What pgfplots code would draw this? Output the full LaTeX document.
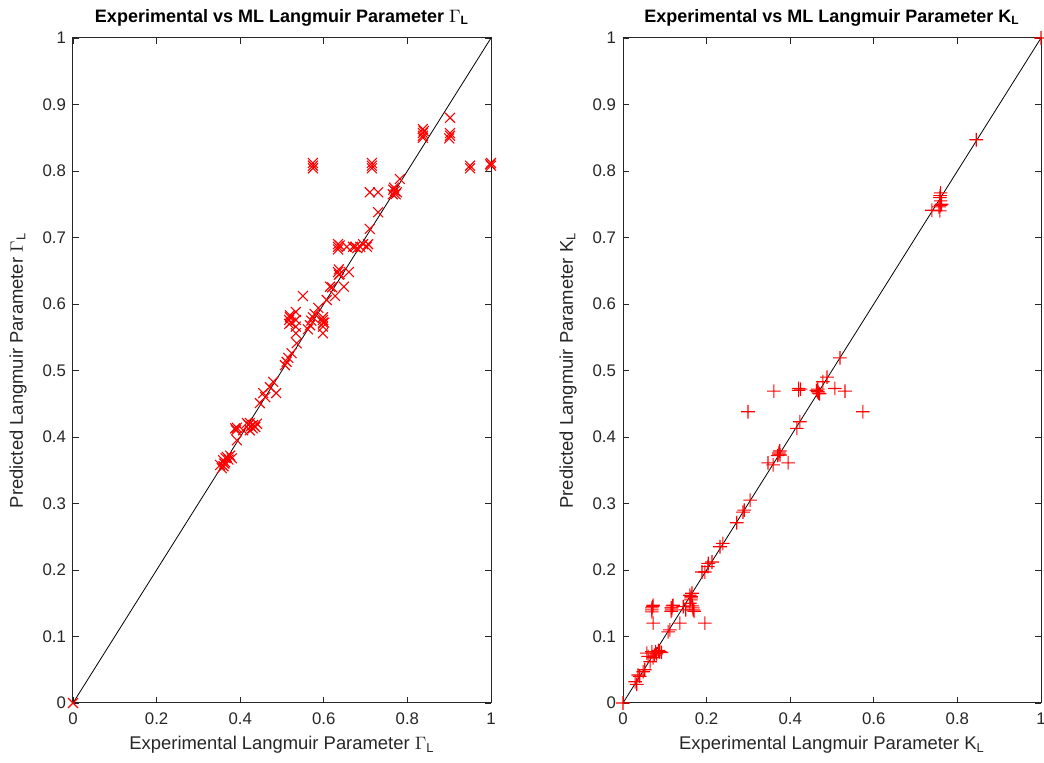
\documentclass[border=0pt]{standalone}
\usepackage{pgfplots}
\pgfplotsset{compat=1.18}
\usepackage{fontspec}
\setmainfont{Liberation Sans}
\definecolor{axgray}{RGB}{38,38,38}
\definecolor{mlred}{RGB}{255,0,0}

% plus mark built from two filled bars, cross mark stroked
\pgfdeclareplotmark{redplus}{%
  \pgfsetfillcolor{mlred}%
  \pgfpathrectangle{\pgfqpoint{-\pgfplotmarksize}{-0.28pt}}{\pgfqpoint{2\pgfplotmarksize}{0.56pt}}%
  \pgfpathrectangle{\pgfqpoint{-0.28pt}{-\pgfplotmarksize}}{\pgfqpoint{0.56pt}{2\pgfplotmarksize}}%
  \pgfusepathqfill}
\pgfdeclareplotmark{redcross}{%
  \pgfsetstrokecolor{mlred}%
  \pgfpathmoveto{\pgfqpoint{-.70710678\pgfplotmarksize}{-.70710678\pgfplotmarksize}}%
  \pgfpathlineto{\pgfqpoint{.70710678\pgfplotmarksize}{.70710678\pgfplotmarksize}}%
  \pgfpathmoveto{\pgfqpoint{-.70710678\pgfplotmarksize}{.70710678\pgfplotmarksize}}%
  \pgfpathlineto{\pgfqpoint{.70710678\pgfplotmarksize}{-.70710678\pgfplotmarksize}}%
  \pgfusepathqstroke}

% Experimental vs ML-predicted Langmuir parameter Gamma_L
\pgfplotstableread{
x y
0 0
0.352 0.358
0.356 0.353
0.359 0.365
0.362 0.360
0.364 0.362
0.360 0.356
0.365 0.368
0.368 0.370
0.372 0.366
0.380 0.368
0.376 0.372
0.392 0.395
0.388 0.413
0.390 0.410
0.392 0.414
0.407 0.410
0.416 0.421
0.420 0.418
0.423 0.410
0.423 0.421
0.425 0.416
0.430 0.413
0.431 0.418
0.436 0.415
0.440 0.420
0.447 0.451
0.455 0.466
0.460 0.460
0.471 0.475
0.479 0.483
0.486 0.466
0.507 0.508
0.511 0.513
0.515 0.519
0.523 0.526
0.535 0.541
0.517 0.576
0.517 0.570
0.519 0.583
0.521 0.572
0.519 0.580
0.533 0.588
0.533 0.576
0.533 0.566
0.533 0.556
0.550 0.612
0.562 0.562
0.567 0.568
0.570 0.575
0.574 0.580
0.578 0.585
0.587 0.594
0.598 0.576
0.598 0.572
0.598 0.580
0.598 0.566
0.598 0.556
0.601 0.572
0.607 0.606
0.615 0.626
0.620 0.625
0.627 0.612
0.634 0.648
0.636 0.652
0.636 0.644
0.638 0.645
0.648 0.626
0.660 0.648
0.634 0.686
0.634 0.682
0.634 0.690
0.638 0.688
0.655 0.686
0.670 0.686
0.675 0.686
0.680 0.684
0.687 0.686
0.694 0.690
0.703 0.686
0.706 0.690
0.710 0.713
0.730 0.738
0.710 0.768
0.730 0.768
0.765 0.765
0.766 0.772
0.770 0.770
0.772 0.765
0.775 0.768
0.768 0.775
0.782 0.788
0.574 0.808
0.574 0.804
0.574 0.812
0.715 0.808
0.715 0.804
0.715 0.812
0.837 0.850
0.837 0.853
0.837 0.857
0.839 0.860
0.837 0.863
0.902 0.853
0.902 0.857
0.900 0.849
0.902 0.880
0.950 0.808
0.950 0.804
1.000 0.808
1.000 0.812
0.998 0.810
}\gammadata

% Experimental vs ML-predicted Langmuir parameter K_L
\pgfplotstableread{
x y
0 0
0.029 0.032
0.033 0.028
0.036 0.042
0.040 0.040
0.048 0.047
0.052 0.050
0.057 0.075
0.060 0.070
0.065 0.062
0.069 0.077
0.072 0.068
0.075 0.072
0.078 0.077
0.080 0.074
0.085 0.079
0.088 0.077
0.092 0.076
0.069 0.143
0.069 0.140
0.071 0.145
0.069 0.137
0.072 0.147
0.072 0.120
0.108 0.107
0.112 0.110
0.117 0.143
0.117 0.140
0.118 0.146
0.115 0.143
0.115 0.138
0.120 0.147
0.136 0.120
0.144 0.145
0.150 0.140
0.160 0.162
0.162 0.155
0.163 0.160
0.163 0.158
0.165 0.165
0.166 0.146
0.167 0.143
0.168 0.140
0.170 0.138
0.160 0.150
0.189 0.197
0.196 0.120
0.196 0.197
0.203 0.205
0.204 0.210
0.213 0.212
0.232 0.235
0.239 0.240
0.272 0.271
0.287 0.287
0.290 0.290
0.299 0.438
0.304 0.305
0.347 0.361
0.359 0.358
0.361 0.469
0.373 0.376
0.373 0.373
0.375 0.379
0.370 0.372
0.376 0.373
0.395 0.361
0.416 0.413
0.423 0.423
0.420 0.473
0.420 0.470
0.425 0.472
0.466 0.468
0.466 0.472
0.468 0.466
0.470 0.465
0.463 0.470
0.478 0.483
0.488 0.490
0.507 0.473
0.519 0.519
0.531 0.469
0.574 0.438
0.739 0.741
0.756 0.746
0.760 0.767
0.759 0.763
0.758 0.760
0.760 0.755
0.762 0.750
0.760 0.748
0.758 0.740
0.845 0.847
1 1
}\kdata

\pgfplotsset{
  paritystyle/.style={
    scale only axis, width=209pt, height=332.5pt,
    anchor=south west,
    xmin=0, xmax=1, ymin=0, ymax=1,
    xtick={0,0.2,0.4,0.6,0.8,1},
    xticklabels={0,0.2,0.4,0.6,0.8,1},
    ytick={0,0.1,0.2,0.3,0.4,0.5,0.6,0.7,0.8,0.9,1},
    yticklabels={0,0.1,0.2,0.3,0.4,0.5,0.6,0.7,0.8,0.9,1},
    tick align=inside,
    major tick length=3pt,
    every tick/.style={axgray, line width=0.4pt},
    axis line style={axgray, line width=0.5pt},
    tick label style={font=\fontsize{8.4}{10}\selectfont, text=axgray},
    x tick label style={yshift=-1.5pt},
    /pgf/number format/assume math mode=true,
    label style={font=\fontsize{9.2}{11}\selectfont, text=axgray},
    xlabel style={at={(axis description cs:0.5,0)}, anchor=center, yshift=-21pt},
    ylabel style={at={(axis description cs:0,0.5)}, anchor=center, rotate=0, yshift=27.5pt},
    every axis title shift=0pt,
    title style={at={(axis description cs:0.5,1)}, anchor=center, yshift=10pt,
                 font=\fontsize{9}{11}\selectfont\bfseries},
    clip=false,
  },
}

\begin{document}
\begin{tikzpicture}
\useasboundingbox (-36.5pt,-30pt) rectangle (485.5pt,351.5pt);

\begin{axis}[paritystyle, at={(0pt,0pt)},
  title={Experimental vs ML Langmuir Parameter $\Gamma$\textsubscript{L}},
  xlabel={Experimental Langmuir Parameter $\Gamma$\textsubscript{L}},
  ylabel={Predicted Langmuir Parameter $\Gamma$\textsubscript{L}}]
  \addplot[black, line width=0.4pt] coordinates {(0,0) (1,1)};
  \addplot[only marks, color=mlred, mark=redcross, mark size=3.5pt, line width=0.55pt]
    table[x=x,y=y] {\gammadata};
\end{axis}

\begin{axis}[paritystyle, at={(275pt,0pt)},
  title={Experimental vs ML Langmuir Parameter K\textsubscript{L}},
  xlabel={Experimental Langmuir Parameter K\textsubscript{L}},
  ylabel={Predicted Langmuir Parameter K\textsubscript{L}}]
  \addplot[black, line width=0.4pt] coordinates {(0,0) (1,1)};
  \addplot[only marks, color=mlred, fill=mlred, mark=redplus, mark size=3.4pt]
    table[x=x,y=y] {\kdata};
\end{axis}
\end{tikzpicture}
\end{document}
